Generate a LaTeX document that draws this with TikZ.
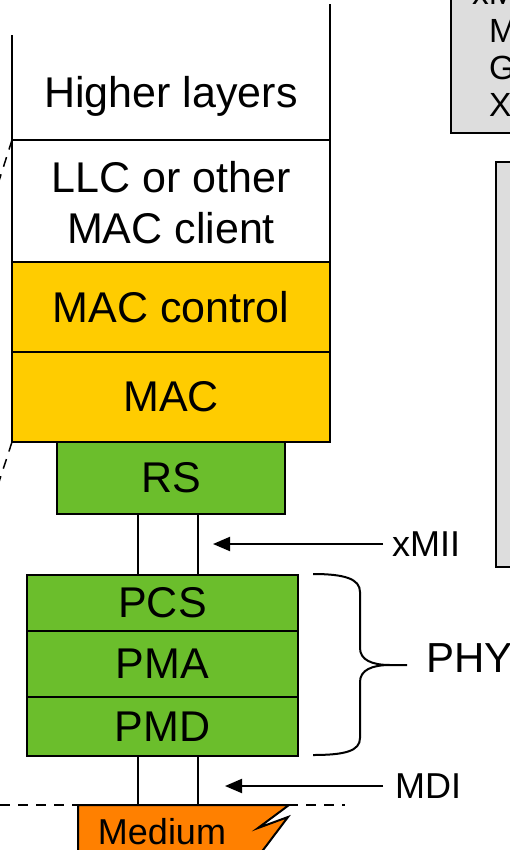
\documentclass[tikz,border=0pt]{standalone}
\usepackage{fontspec}
\setmainfont{Liberation Sans}
\usetikzlibrary{arrows.meta}
\definecolor{macyellow}{RGB}{255,204,0}
\definecolor{phygreen}{RGB}{107,190,44}
\definecolor{mediumorange}{RGB}{255,128,0}
\definecolor{notegrey}{RGB}{221,221,221}
\begin{document}
\begin{tikzpicture}[x=1pt,y=-1pt,
  layer/.style={draw=black,line width=2pt,inner sep=0pt,outer sep=0pt,align=center,
    font=\fontsize{43}{51}\selectfont},
  bigtext/.style={inner sep=0pt,font=\fontsize{43}{51}\selectfont},
  sidelabel/.style={inner sep=0pt,anchor=west,font=\fontsize{36}{43}\selectfont},
  notetext/.style={inner sep=0pt,anchor=base west,font=\fontsize{33.5}{38}\selectfont},
  link/.style={line width=1.5pt},
  pointer/.style={line width=2pt,-{Triangle[length=17pt,width=14pt]}},
  zoomline/.style={line width=1.5pt,dash pattern=on 10pt off 8pt},
  edge/.style={line width=2pt}]
\useasboundingbox (0,0) rectangle (510,850);
\clip (0,0) rectangle (510,850);

% grey notes on the right
\draw[edge,fill=notegrey] (451,-20) rectangle (540,133);
\node[notetext] (n0) at (472,5) {xMII};
\node[notetext] (n1) at (489,43) {MII};
\node[notetext] (n2) at (489,80) {GMII};
\node[notetext] (n3) at (489,117) {XGMII};
\draw[edge,fill=notegrey] (496,162) rectangle (540,567);

% layer stack
\coordinate (hl) at (12,35);
\coordinate (hr) at (330,4);
\node[bigtext] (higher) at (171,96) {Higher layers};
\node[layer,minimum width=318pt,minimum height=122pt] (llc) at (171,201) {};
\node[bigtext,align=center] (llctext) at (171,203) {LLC or other\\ MAC client};
\draw[edge] (llc.north west) -- (hl);
\draw[edge] (llc.north east) -- (hr);
\node[layer,fill=macyellow,minimum width=318pt,minimum height=90pt] (macctl) at (171,307) {MAC control};
\node[layer,fill=macyellow,minimum width=318pt,minimum height=90pt] (mac) at (171,397) {MAC};
\node[layer,fill=phygreen,minimum width=228pt,minimum height=72pt] (rs) at (171,478) {RS};
\node[layer,fill=phygreen,minimum width=271pt,minimum height=56pt] (pcs) at (162.5,603) {PCS};
\node[layer,fill=phygreen,minimum width=271pt,minimum height=66pt] (pma) at (162.5,664) {PMA};
\node[layer,fill=phygreen,minimum width=271pt,minimum height=59pt] (pmd) at (162.5,726.5) {PMD};

% dashed zoom lines on the left
\coordinate (zt) at (-2,184);
\coordinate (zb) at (-2,485);
\draw[zoomline] (llc.north west) -- (zt);
\draw[zoomline] (mac.south west) -- (zb);

% interface wires
\coordinate (wa) at (138,0);
\coordinate (wb) at (198,0);
\draw[link] (rs.south -| wa) -- (pcs.north -| wa);
\draw[link] (rs.south -| wb) -- (pcs.north -| wb);

% medium boundary and medium
\coordinate (dl) at (0,805);
\coordinate (dr) at (345,805);
\coordinate (mtop) at (78,805);
\draw[zoomline] (dl) -- (dr);
\filldraw[edge,fill=mediumorange] (78,870) -- (mtop) -- (289,805) -- (258,828)
  -- (288,817) -- (248,870);
\node[inner sep=0pt,font=\fontsize{36}{43}\selectfont] (medium) at (162,832) {Medium};
\draw[link] (pmd.south -| wa) -- (mtop -| wa);
\draw[link] (pmd.south -| wb) -- (mtop -| wb);

% interface labels
\node[sidelabel] (xmii) at (392,544) {xMII};
\coordinate (xmiitip) at (213,544);
\draw[pointer] ([xshift=-9pt]xmii.west) -- (xmiitip);
\node[sidelabel] (mdi) at (395,786) {MDI};
\coordinate (mditip) at (225,786);
\draw[pointer] ([xshift=-12pt]mdi.west) -- (mditip);

% PHY brace
\draw[edge] (313,574) .. controls (345,574) and (360,579) .. (360,592)
  -- (360,648) .. controls (360,660) and (372,665) .. (390,665) -- (407,665)
  -- (390,665) .. controls (372,665) and (360,670) .. (360,682)
  -- (360,738) .. controls (360,751) and (345,755) .. (313,755);
\node[sidelabel,font=\fontsize{42}{51}\selectfont] (phy) at (426,658) {PHY};
\end{tikzpicture}
\end{document}
